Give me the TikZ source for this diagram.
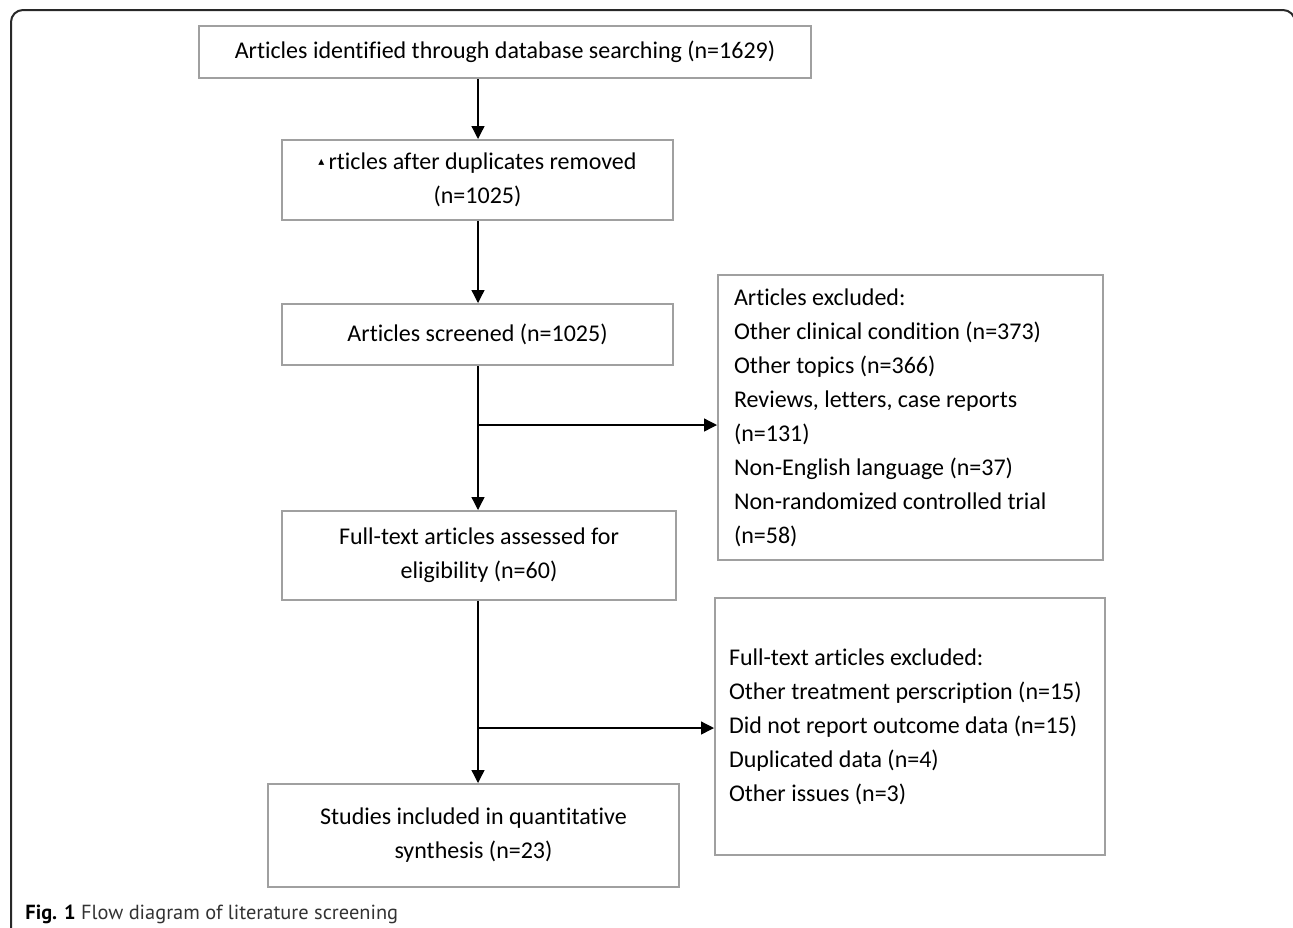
\documentclass[tikz,border=0pt]{standalone}
\usepackage{fontspec}
\setmainfont{Carlito}[RawFeature={-liga;-clig;-calt;-dlig}]
\newfontfamily\capfont{PT Sans}
\newfontfamily\symfont{DejaVu Sans}
\usetikzlibrary{positioning,arrows.meta,calc}
\definecolor{boxgray}{RGB}{160,160,160}
\definecolor{framegray}{RGB}{40,40,40}

\begin{document}
\begin{tikzpicture}[x=0.5pt,y=-0.5pt,
  stage/.style={rectangle, draw=boxgray, line width=1pt, inner sep=0pt, align=center,
                font=\fontsize{12}{17}\selectfont},
  excl/.style={stage, align=flush left},
  arr/.style={-{Triangle[length=6.5pt,width=6.5pt]}, line width=0.65pt, black}
]
  \useasboundingbox (0,0) rectangle (1293,927);
  \draw[framegray, line width=1pt, rounded corners=6pt] (11,960) -- (11,10) -- (1295,10) -- (1295,960);

  \node[stage, minimum width=306pt, minimum height=26pt] (ident) at (505,52) {Articles identified through database searching (n=1629)};
  \node[stage, minimum width=195.5pt, minimum height=40pt] (dedup) at (477.5,180) {\raisebox{2pt}{\symfont\fontsize{6}{6}\selectfont ▴}\,rticles after duplicates removed\\(n=1025)};
  \node[stage, minimum width=195.5pt, minimum height=30.5pt] (screen) at (477.5,334.5) {Articles screened (n=1025)};
  \node[stage, minimum width=197pt, minimum height=44.5pt] (full) at (479,555.5) {Full-text articles assessed for\\eligibility (n=60)};
  \node[stage, minimum width=205.5pt, minimum height=51.5pt] (incl) at (473.5,835.5) {Studies included in quantitative\\synthesis (n=23)};

  \node[excl, text width=176.5pt, inner xsep=8pt, minimum height=142.5pt] (excl1) at (910.5,417.5)
    {Articles excluded:\\Other clinical condition (n=373)\\Other topics (n=366)\\Reviews, letters, case reports\\(n=131)\\Non-English language (n=37)\\Non-randomized controlled trial\\(n=58)};
  \node[excl, text width=181pt, inner xsep=7pt, minimum height=128.5pt] (excl2) at (910,726.5)
    {Full-text articles excluded:\\Other treatment perscription (n=15)\\Did not report outcome data (n=15)\\Duplicated data (n=4)\\Other issues (n=3)};

  \coordinate (spine) at (478,0);
  \coordinate (split1) at (478,425);
  \coordinate (split2) at (478,728);
  \draw[arr] (ident.south -| spine) -- (dedup.north -| spine);
  \draw[arr] (dedup.south -| spine) -- (screen.north -| spine);
  \draw[arr] (screen.south -| spine) -- (full.north -| spine);
  \draw[arr] (full.south -| spine) -- (incl.north -| spine);
  \draw[arr] (split1) -- (split1 -| excl1.west);
  \draw[arr] (split2) -- (split2 -| excl2.west);

  \node[anchor=base west, inner sep=0pt, font=\capfont\fontsize{10.2}{12}\selectfont] (caption) at (25,919)
    {\textbf{Fig. 1} {\color{black!80}Flow diagram of literature screening}};
\end{tikzpicture}
\end{document}
